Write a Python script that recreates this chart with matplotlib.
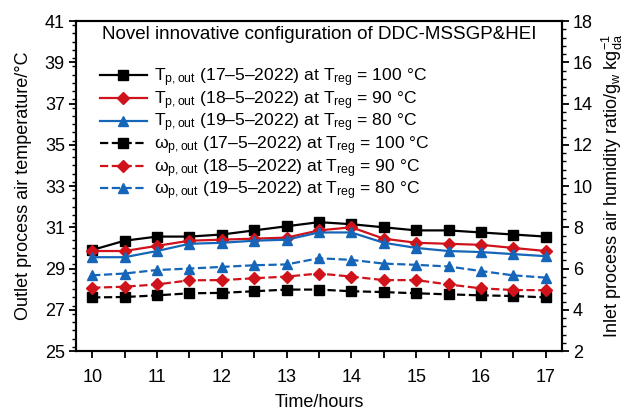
import numpy as np
import matplotlib
matplotlib.use("Agg")
import matplotlib.pyplot as plt
from matplotlib.ticker import MultipleLocator

plt.rcParams['font.family'] = ['Liberation Sans', 'DejaVu Sans']
plt.rcParams['mathtext.fontset'] = 'custom'
plt.rcParams['mathtext.rm'] = 'Liberation Sans'
plt.rcParams['mathtext.it'] = 'Liberation Sans:italic'
plt.rcParams['font.size'] = 13

# data
hours = [10, 10.5, 11, 11.5, 12, 12.5, 13, 13.5, 14, 14.5, 15, 15.5, 16, 16.5, 17]

t_17 = [29.9, 30.35, 30.55, 30.55, 30.65, 30.85, 31.05, 31.25, 31.15, 31.0, 30.85, 30.85, 30.75, 30.65, 30.55]
t_18 = [29.85, 29.85, 30.1, 30.35, 30.4, 30.45, 30.5, 30.85, 31.0, 30.45, 30.25, 30.2, 30.15, 30.0, 29.85]
t_19 = [29.55, 29.55, 29.85, 30.2, 30.25, 30.35, 30.4, 30.75, 30.75, 30.25, 30.0, 29.85, 29.8, 29.7, 29.6]

w_17 = [4.6, 4.62, 4.7, 4.8, 4.82, 4.9, 4.98, 4.98, 4.9, 4.86, 4.8, 4.75, 4.7, 4.67, 4.6]
w_18 = [5.07, 5.12, 5.23, 5.43, 5.44, 5.53, 5.61, 5.76, 5.61, 5.44, 5.44, 5.23, 5.04, 4.96, 4.95]
w_19 = [5.67, 5.76, 5.93, 6.0, 6.08, 6.16, 6.2, 6.5, 6.42, 6.24, 6.18, 6.1, 5.88, 5.67, 5.56]

t_ticks = [25, 27, 29, 31, 33, 35, 37, 39, 41]

black = 'black'
red = '#d0121b'
blue = '#1565b8'

fig = plt.figure(figsize=(6.27, 4.13), dpi=100)
ax = fig.add_axes([0.1212, 0.150, 0.775, 0.799])
ax2 = ax.twinx()

l1, = ax.plot(hours, t_17, '-s', color=black, lw=1.6, ms=7)
l2, = ax.plot(hours, t_18, '-D', color=red, lw=1.6, ms=6)
l3, = ax.plot(hours, t_19, '-^', color=blue, lw=1.6, ms=7.5)
l4, = ax2.plot(hours, w_17, '--s', color=black, lw=1.6, ms=7)
l5, = ax2.plot(hours, w_18, '--D', color=red, lw=1.6, ms=6)
l6, = ax2.plot(hours, w_19, '--^', color=blue, lw=1.6, ms=7.5)

ax.set_xlim(9.75, 17.25)
ax.set_ylim(25, 41)
ax2.set_ylim(2, 18)

ax.xaxis.set_major_locator(MultipleLocator(1))
ax.xaxis.set_minor_locator(MultipleLocator(0.5))
ax.set_yticks(t_ticks)
ax.yaxis.set_minor_locator(MultipleLocator(0.4))
ax2.yaxis.set_major_locator(MultipleLocator(2))
ax2.yaxis.set_minor_locator(MultipleLocator(0.4))

for a in (ax, ax2):
    a.tick_params(which='major', direction='out', length=5, width=1.3, labelsize=13, pad=3)
    a.tick_params(which='minor', direction='out', length=3, width=1.0)
    for s in a.spines.values():
        s.set_linewidth(1.5)
ax.tick_params(axis='x', which='minor', length=5, width=1.3)
ax.tick_params(axis='x', pad=8)

ax.set_xlabel('Time/hours', fontsize=13, labelpad=6)
ax.set_ylabel('Outlet process air temperature/°C', fontsize=13, labelpad=9)
ax2.set_ylabel(r'Inlet process air humidity ratio/g$_{\mathrm{w}}$ kg$_{\mathrm{da}}^{-1}$',
               fontsize=13, labelpad=5)

ax.text(0.5, 0.985, 'Novel innovative configuration of DDC-MSSGP&HEI',
        transform=ax.transAxes, ha='center', va='top', fontsize=13.5)

labels = [
    r'T$_{\mathrm{p,out}}$ (17–5–2022) at T$_{\mathrm{reg}}$ = 100 °C',
    r'T$_{\mathrm{p,out}}$ (18–5–2022) at T$_{\mathrm{reg}}$ = 90 °C',
    r'T$_{\mathrm{p,out}}$ (19–5–2022) at T$_{\mathrm{reg}}$ = 80 °C',
    r'ω$_{\mathrm{p,out}}$ (17–5–2022) at T$_{\mathrm{reg}}$ = 100 °C',
    r'ω$_{\mathrm{p,out}}$ (18–5–2022) at T$_{\mathrm{reg}}$ = 90 °C',
    r'ω$_{\mathrm{p,out}}$ (19–5–2022) at T$_{\mathrm{reg}}$ = 80 °C',
]
ax2.legend([l1, l2, l3, l4, l5, l6], labels, loc='upper left',
           bbox_to_anchor=(0.049, 0.862), frameon=False, handlelength=2.7,
           handletextpad=0.4, labelspacing=0.0, fontsize=12.6, borderpad=0,
           borderaxespad=0)

fig.savefig('out.png', dpi=100)
